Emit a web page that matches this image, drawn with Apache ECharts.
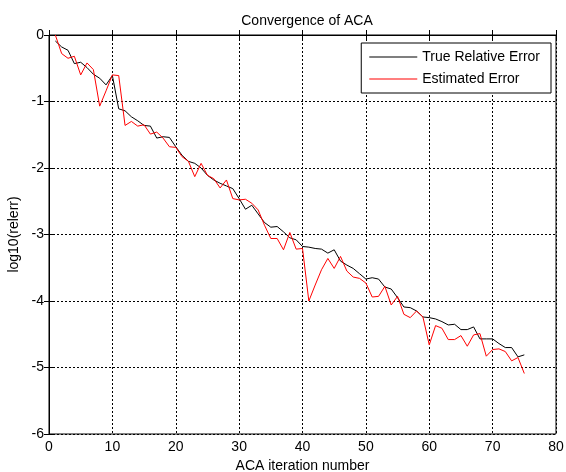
<!DOCTYPE html>
<html>
<head>
<meta charset="utf-8">
<script src="https://cdn.jsdelivr.net/npm/echarts@6/dist/echarts.min.js"></script>
<style>
  html, body { margin: 0; padding: 0; background: #fff; }
  #chart { width: 566px; height: 472px; }
</style>
</head>
<body>
<div id="chart"></div>
<script>
// iteration numbers and the two error curves (log10 values)
var iterations = [];
for (var k = 1; k <= 75; k++) iterations.push(k);

var trueError = [
  -0.09, -0.18, -0.23, -0.43, -0.41, -0.49, -0.59, -0.65, -0.75, -0.61,
  -1.11, -1.14, -1.23, -1.29, -1.36, -1.37, -1.55, -1.53, -1.54, -1.68,
  -1.81, -1.90, -1.93, -2.00, -2.11, -2.18, -2.23, -2.27, -2.31, -2.46,
  -2.62, -2.56, -2.69, -2.82, -2.89, -2.88, -2.96, -3.05, -3.08, -3.18,
  -3.19, -3.21, -3.22, -3.28, -3.23, -3.40, -3.46, -3.51, -3.59, -3.67,
  -3.65, -3.67, -3.79, -3.82, -3.95, -4.09, -4.10, -4.15, -4.24, -4.25,
  -4.27, -4.31, -4.36, -4.35, -4.43, -4.43, -4.39, -4.57, -4.57, -4.57,
  -4.64, -4.70, -4.70, -4.84, -4.81
];

var estError = [
  0.00, -0.28, -0.35, -0.32, -0.60, -0.42, -0.52, -1.07, -0.84, -0.60,
  -0.61, -1.36, -1.30, -1.37, -1.35, -1.49, -1.46, -1.55, -1.68, -1.69,
  -1.83, -1.90, -2.13, -1.93, -2.11, -2.16, -2.30, -2.18, -2.46, -2.48,
  -2.47, -2.53, -2.63, -2.86, -3.06, -3.06, -3.23, -2.97, -3.22, -3.21,
  -4.00, -3.76, -3.53, -3.36, -3.51, -3.33, -3.55, -3.64, -3.66, -3.73,
  -3.94, -3.93, -3.78, -4.06, -3.93, -4.20, -4.25, -4.15, -4.24, -4.66,
  -4.37, -4.41, -4.58, -4.58, -4.52, -4.68, -4.51, -4.49, -4.83, -4.73,
  -4.72, -4.76, -4.90, -4.85, -5.09
];

var seriesNames = ['True Relative Error', 'Estimated Error'];

function pairs(ys) {
  var out = [];
  for (var i = 0; i < ys.length; i++) out.push([iterations[i], ys[i]]);
  return out;
}

var chart = echarts.init(document.getElementById('chart'));
var font = 'Liberation Sans, Arial, sans-serif';
var dotted = { color: '#000', width: 1, type: [2, 2] };
var lineIcon = 'path://M0,0H46V1H0Z';

chart.setOption({
  animation: false,
  backgroundColor: '#fff',
  textStyle: { fontFamily: font, color: '#000' },
  title: {
    text: 'Convergence of ACA',
    left: 302, top: 9,
    textAlign: 'center',
    textStyle: { fontFamily: font, fontSize: 14, fontWeight: 'normal', color: '#000' }
  },
  grid: {
    left: 49, right: 10, top: 35, bottom: 38,
    outerBoundsMode: 'none',
    show: true, borderColor: '#000', borderWidth: 1
  },
  legend: {
    data: [
      { name: seriesNames[0], icon: lineIcon },
      { name: seriesNames[1], icon: lineIcon }
    ],
    orient: 'vertical',
    right: 15, top: 43,
    padding: [7, 11, 7, 8],
    itemGap: 8,
    itemWidth: 48, itemHeight: 14,
    backgroundColor: '#fff',
    borderColor: '#000', borderWidth: 1,
    textStyle: { fontFamily: font, fontSize: 14, color: '#000', width: 122 }
  },
  xAxis: [{
    type: 'value', min: 0, max: 80, interval: 10,
    name: 'ACA iteration number', nameLocation: 'middle', nameGap: 25,
    nameTextStyle: { fontFamily: font, fontSize: 14, color: '#000' },
    axisLine: { show: true, lineStyle: { color: '#000' } },
    axisTick: { inside: true, length: 5, lineStyle: { color: '#000' } },
    axisLabel: { margin: 6, fontSize: 14, color: '#000', fontFamily: font },
    splitLine: { show: true, lineStyle: dotted }
  }, {
    type: 'value', min: 0, max: 80, interval: 10, position: 'top',
    axisLine: { show: true, lineStyle: { color: '#000' } },
    axisTick: { inside: true, length: 5, lineStyle: { color: '#000' } },
    axisLabel: { show: false }, splitLine: { show: false }
  }],
  yAxis: [{
    type: 'value', min: -6, max: 0, interval: 1,
    name: 'log10(relerr)', nameLocation: 'middle', nameGap: 28,
    nameTextStyle: { fontFamily: font, fontSize: 14, color: '#000' },
    axisLine: { show: true, lineStyle: { color: '#000' } },
    axisTick: { inside: true, length: 5, lineStyle: { color: '#000' } },
    axisLabel: { margin: 5, fontSize: 14, color: '#000', fontFamily: font },
    splitLine: { show: true, lineStyle: dotted }
  }, {
    type: 'value', min: -6, max: 0, interval: 1, position: 'right',
    axisLine: { show: true, lineStyle: { color: '#000' } },
    axisTick: { inside: true, length: 5, lineStyle: { color: '#000' } },
    axisLabel: { show: false }, splitLine: { show: false }
  }],
  series: [{
    name: seriesNames[0], type: 'line',
    data: pairs(trueError),
    symbol: 'none',
    lineStyle: { color: '#000', width: 1 },
    itemStyle: { color: '#000' }
  }, {
    name: seriesNames[1], type: 'line',
    data: pairs(estError),
    symbol: 'none',
    lineStyle: { color: '#ff0000', width: 1 },
    itemStyle: { color: '#ff0000' }
  }]
});
</script>
</body>
</html>
